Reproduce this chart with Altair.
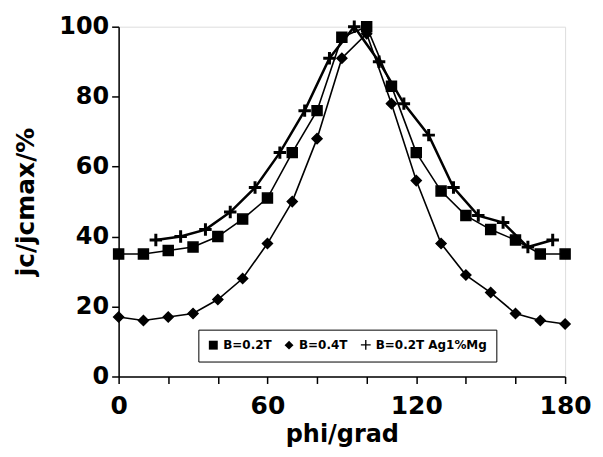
import altair as alt
import pandas as pd

# data
phi_a = [0, 10, 20, 30, 40, 50, 60, 70, 80, 90, 100, 110, 120, 130, 140, 150, 160, 170, 180]
b02 = [35, 35, 36, 37, 40, 45, 51, 64, 76, 97, 100, 83, 64, 53, 46, 42, 39, 35, 35]
b04 = [17, 16, 17, 18, 22, 28, 38, 50, 68, 91, 98, 78, 56, 38, 29, 24, 18, 16, 15]
phi_mg = [15, 25, 35, 45, 55, 65, 75, 85, 95, 105, 115, 125, 135, 145, 155, 165, 175]
b02mg = [39, 40, 42, 47, 54, 64, 76, 91, 100, 90, 78, 69, 54, 46, 44, 37, 39]

series = ["B=0.2T", "B=0.4T", "B=0.2T Ag1%Mg"]

rows = []
for x, y in zip(phi_a, b02):
    rows.append({"phi": x, "jc": y, "series": series[0]})
for x, y in zip(phi_a, b04):
    rows.append({"phi": x, "jc": y, "series": series[1]})
for x, y in zip(phi_mg, b02mg):
    rows.append({"phi": x, "jc": y, "series": series[2]})
df = pd.DataFrame(rows)

FONT = "DejaVu Sans"
PLUS = ("M-1.1,-0.15L-0.15,-0.15L-0.15,-1.1L0.15,-1.1L0.15,-0.15L1.1,-0.15"
        "L1.1,0.15L0.15,0.15L0.15,1.1L-0.15,1.1L-0.15,0.15L-1.1,0.15Z")

x_enc = alt.X(
    "phi:Q",
    scale=alt.Scale(domain=[0, 180], nice=False),
    axis=alt.Axis(
        title="phi/grad",
        values=[0, 20, 40, 60, 80, 100, 120, 140, 160, 180],
        labelExpr="datum.value % 60 == 0 ? datum.label : ''",
        grid=False,
        domainColor="black",
        domainWidth=1.5,
        tickColor="black",
        tickWidth=1.5,
        tickSize=7,
        labelFont=FONT,
        labelFontWeight="bold",
        labelFontSize=25,
        labelColor="black",
        labelPadding=10,
        labelFlush=False,
        titleFont=FONT,
        titleFontWeight="bold",
        titleFontSize=24,
        titleColor="black",
        titlePadding=4,
    ),
)
y_enc = alt.Y(
    "jc:Q",
    scale=alt.Scale(domain=[0, 100], nice=False),
    axis=alt.Axis(
        title="jc/jcmax/%",
        values=[0, 20, 40, 60, 80, 100],
        grid=False,
        domainColor="black",
        domainWidth=1.5,
        tickColor="black",
        tickWidth=1.5,
        tickSize=7,
        labelFont=FONT,
        labelFontWeight="bold",
        labelFontSize=24,
        labelColor="black",
        labelPadding=3,
        labelFlush=False,
        titleFont=FONT,
        titleFontWeight="bold",
        titleFontSize=25,
        titleColor="black",
        titlePadding=20,
    ),
)

base = alt.Chart(df)

lines_thin = base.mark_line(color="black", strokeWidth=1.6).encode(
    x=x_enc,
    y=y_enc,
    detail="series:N",
).transform_filter(alt.FieldOneOfPredicate(field="series", oneOf=series[:2]))

lines_thick = base.mark_line(color="black", strokeWidth=2.5).encode(
    x="phi:Q",
    y="jc:Q",
).transform_filter(alt.FieldEqualPredicate(field="series", equal=series[2]))

points = base.mark_point(
    filled=True, fill="black", stroke="black", strokeWidth=1.5, opacity=1, size=100
).encode(
    x="phi:Q",
    y="jc:Q",
    shape=alt.Shape(
        "series:N",
        scale=alt.Scale(
            domain=series,
            range=["square", "diamond", PLUS],
        ),
        legend=alt.Legend(
            title=None,
            orient="none",
            legendX=80,
            legendY=304,
            direction="horizontal",
            columns=3,
            strokeColor="black",
            padding=9,
            columnPadding=10,
            symbolFillColor="black",
            symbolStrokeColor="black",
            symbolStrokeWidth=1.2,
            symbolSize=80,
            labelFont=FONT,
            labelFontWeight="bold",
            labelFontSize=12,
            labelColor="black",
            fillColor="white",
        ),
    ),
)

chart = (
    alt.layer(lines_thin, lines_thick, points)
    .properties(
        width=448,
        height=351,
        autosize=alt.AutoSizeParams(type="none"),
        padding={"left": 111, "top": 18, "right": 30, "bottom": 72},
    )
    .configure_view(stroke=None)
    .configure(background="white")
)

chart.save("out.html", embed_options={"renderer": "svg", "actions": False})
